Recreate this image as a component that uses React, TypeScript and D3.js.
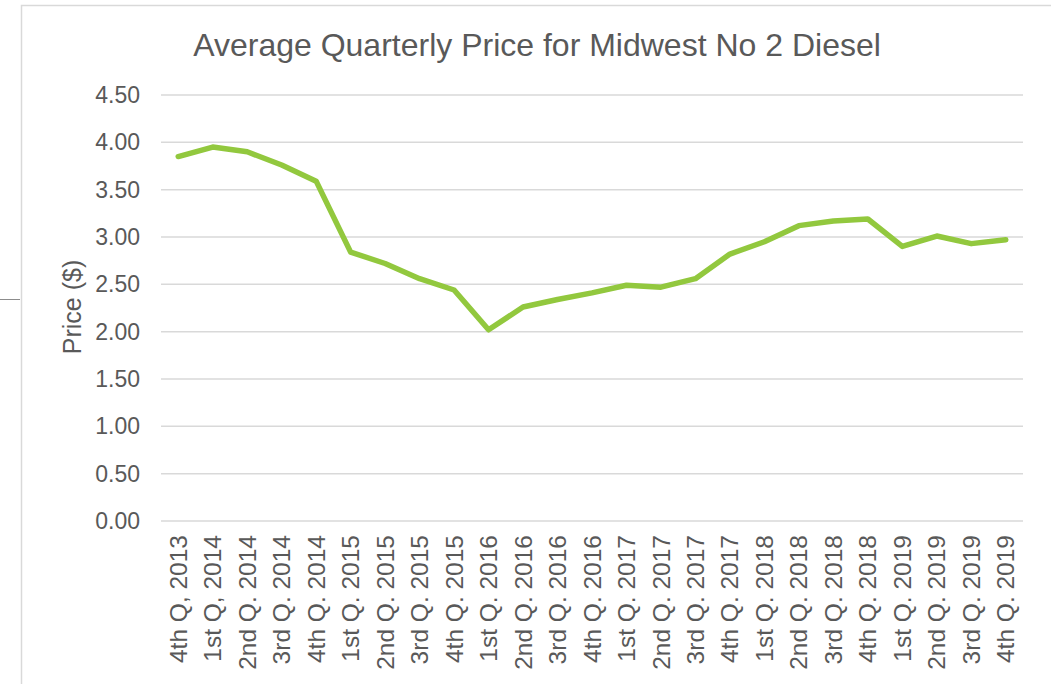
import { useEffect, useRef } from 'react';
import * as d3 from 'd3';

// quarters, as printed on the axis (the first two use a comma)
const quarters = [
  '4th Q, 2013',
  '1st Q, 2014', '2nd Q. 2014', '3rd Q. 2014', '4th Q. 2014',
  '1st Q. 2015', '2nd Q. 2015', '3rd Q. 2015', '4th Q. 2015',
  '1st Q. 2016', '2nd Q. 2016', '3rd Q. 2016', '4th Q. 2016',
  '1st Q. 2017', '2nd Q. 2017', '3rd Q. 2017', '4th Q. 2017',
  '1st Q. 2018', '2nd Q. 2018', '3rd Q. 2018', '4th Q. 2018',
  '1st Q. 2019', '2nd Q. 2019', '3rd Q. 2019', '4th Q. 2019',
];

// average price, $ per gallon
const prices = [
  3.85,
  3.95, 3.90, 3.76, 3.59,
  2.84, 2.72, 2.56, 2.44,
  2.02, 2.26, 2.34, 2.41,
  2.49, 2.47, 2.56, 2.82,
  2.95, 3.12, 3.17, 3.19,
  2.90, 3.01, 2.93, 2.97,
];

const yTicks = [0, 0.5, 1, 1.5, 2, 2.5, 3, 3.5, 4, 4.5];

const title = 'Average Quarterly Price for Midwest No 2 Diesel';
const yTitle = 'Price ($)';

const W = 1051;
const H = 684;
const FONT = '"Liberation Sans", Arial, sans-serif';
const TEXT = '#595959';
const GRID = '#d9d9d9';
const LINE = '#92c83e';

const App = () => {
  const svgRef = useRef<SVGSVGElement>(null);

  useEffect(() => {
    if (!svgRef.current) return;
    const svg = d3.select(svgRef.current);
    svg.selectAll('*').remove();

    const x = d3.scaleBand<string>().domain(quarters).range([161, 1023]);
    const y = d3.scaleLinear().domain([0, 4.5]).range([521, 95]);
    const cx = (q: string) => (x(q) || 0) + x.bandwidth() / 2;

    // chart area frame
    svg
      .append('rect')
      .attr('x', 21.5)
      .attr('y', 5.5)
      .attr('width', W + 10)
      .attr('height', H + 10)
      .attr('fill', 'white')
      .attr('stroke', GRID)
      .attr('stroke-width', 1.5);

    // stray line left of the frame
    svg
      .append('line')
      .attr('x1', 0)
      .attr('x2', 20)
      .attr('y1', 299.5)
      .attr('y2', 299.5)
      .attr('stroke', '#8c8c8c')
      .attr('stroke-width', 1);

    // title
    svg
      .append('text')
      .attr('x', 537)
      .attr('y', 45)
      .attr('dy', '0.35em')
      .attr('text-anchor', 'middle')
      .attr('font-family', FONT)
      .attr('font-size', 32)
      .attr('fill', TEXT)
      .text(title);

    // gridlines + y tick labels
    const yAxis = svg.append('g');
    yAxis
      .selectAll('line')
      .data(yTicks)
      .join('line')
      .attr('x1', 161)
      .attr('x2', 1023)
      .attr('y1', (d) => y(d))
      .attr('y2', (d) => y(d))
      .attr('stroke', GRID)
      .attr('stroke-width', 1.5);

    yAxis
      .selectAll('text')
      .data(yTicks)
      .join('text')
      .attr('x', 140)
      .attr('y', (d) => y(d))
      .attr('dy', '0.35em')
      .attr('text-anchor', 'end')
      .attr('font-family', FONT)
      .attr('font-size', 23)
      .attr('fill', TEXT)
      .text((d) => d3.format('.2f')(d));

    // y axis title
    svg
      .append('text')
      .attr('transform', `translate(72,307) rotate(-90)`)
      .attr('dy', '0.35em')
      .attr('text-anchor', 'middle')
      .attr('font-family', FONT)
      .attr('font-size', 25)
      .attr('fill', TEXT)
      .text(yTitle);

    // x labels, rotated
    svg
      .append('g')
      .selectAll('text')
      .data(quarters)
      .join('text')
      .attr('transform', (d) => `translate(${cx(d)},535) rotate(-90)`)
      .attr('dy', '0.35em')
      .attr('text-anchor', 'end')
      .attr('font-family', FONT)
      .attr('font-size', 24.5)
      .attr('fill', TEXT)
      .text((d) => d);

    // price line
    const line = d3
      .line<number>()
      .x((_, i) => cx(quarters[i]))
      .y((d) => y(d));

    svg
      .append('path')
      .datum(prices)
      .attr('d', line)
      .attr('fill', 'none')
      .attr('stroke', LINE)
      .attr('stroke-width', 5.5)
      .attr('stroke-linejoin', 'round')
      .attr('stroke-linecap', 'round');
  }, []);

  return (
    <div style={{ position: 'absolute', left: 0, top: 0 }}>
      <svg ref={svgRef} width={W} height={H} style={{ display: 'block' }} />
    </div>
  );
};

export default App;
